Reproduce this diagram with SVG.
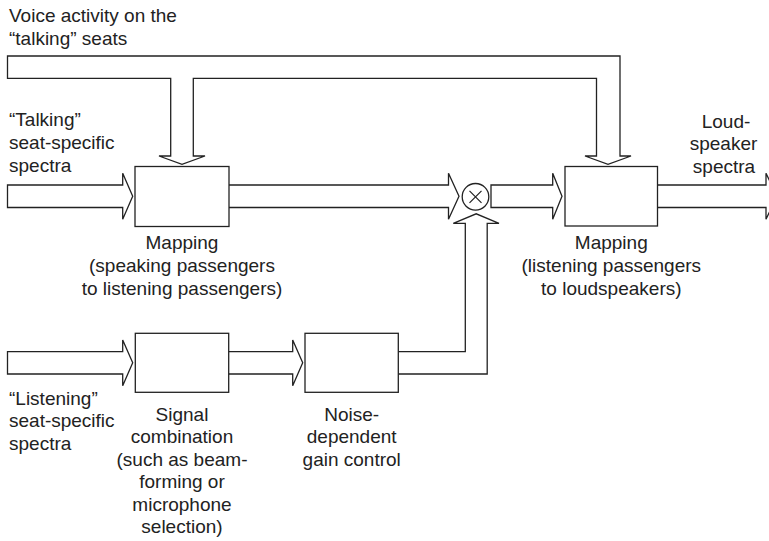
<svg xmlns="http://www.w3.org/2000/svg" width="769" height="541" viewBox="0 0 769 541">
  <style>
    .line { fill: #fff; stroke: #222; stroke-width: 1.3; stroke-linejoin: miter; }
    .box { fill: #fff; stroke: #222; stroke-width: 1.3; }
    .lbl { font-family: "Liberation Sans", Arial, Helvetica, sans-serif; font-size: 19px; fill: #222; }
    .mid { text-anchor: middle; }
  </style>
  <rect width="769" height="541" fill="#fff"/>

  <!-- wide block arrows between stages -->
  <g id="connectors">
    <!-- voice-activity bus feeding both mapping blocks from above -->
    <path class="line" d="M7.5,56 H620 V156 H631 L608,164.3 L585,156 H596.5 V78.3 H193.3 V156 H205 L182,164.3 L159,156 H170.7 V78.3 H7.5 Z"/>
    <!-- talking-seat spectra into first mapping -->
    <path class="line" d="M7.5,185 H122.7 V173.3 L132.7,196.25 L122.7,219.2 V207.5 H7.5 Z"/>
    <!-- first mapping to multiplier -->
    <path class="line" d="M229,185 H448.5 V173.3 L459,196.25 L448.5,219.2 V207.5 H229"/>
    <!-- multiplier to second mapping -->
    <path class="line" d="M491,185 H552.7 V173.3 L562,196.25 L552.7,219.2 V207.5 H491 Z"/>
    <!-- loudspeaker spectra out -->
    <path class="line" d="M657.5,185 H766 V173.3 L777,196.25 L766,219.2 V207.5 H657.5"/>
    <!-- listening-seat spectra into signal combination -->
    <path class="line" d="M7.5,351.7 H122.7 V340 L132.7,362.85 L122.7,385.7 V374 H7.5 Z"/>
    <!-- signal combination to gain control -->
    <path class="line" d="M228.7,351.7 H292.7 V340 L302.7,362.85 L292.7,385.7 V374 H228.7"/>
    <!-- gain control up into multiplier -->
    <path class="line" d="M398.3,351.7 H465.3 V223.3 H453.3 L476.2,213.8 L499,223.3 H487.2 V374 H398.3"/>
  </g>

  <g id="mapping-talk">
    <rect class="box" x="135" y="166.5" width="94" height="60"/>
    <text class="lbl mid" x="182" y="249">Mapping</text>
    <text class="lbl mid" x="182" y="272">(speaking passengers</text>
    <text class="lbl mid" x="182" y="295">to listening passengers)</text>
  </g>

  <g id="mapping-listen">
    <rect class="box" x="565" y="166.5" width="92.5" height="59.5"/>
    <text class="lbl mid" x="611.3" y="249">Mapping</text>
    <text class="lbl mid" x="611.3" y="272">(listening passengers</text>
    <text class="lbl mid" x="611.3" y="295">to loudspeakers)</text>
  </g>

  <g id="multiplier">
    <circle class="box" cx="475.5" cy="196.8" r="13.3"/>
    <path d="M469.5,190.8 L481.5,202.8 M481.5,190.8 L469.5,202.8" stroke="#222" stroke-width="1.2" fill="none"/>
  </g>

  <g id="signal-combination">
    <rect class="box" x="135.3" y="333.3" width="93.4" height="59"/>
    <text class="lbl mid" x="182" y="420.5">Signal</text>
    <text class="lbl mid" x="182" y="443">combination</text>
    <text class="lbl mid" x="182" y="465.5">(such as beam-</text>
    <text class="lbl mid" x="182" y="488">forming or</text>
    <text class="lbl mid" x="182" y="510.5">microphone</text>
    <text class="lbl mid" x="182" y="533">selection)</text>
  </g>

  <g id="gain-control">
    <rect class="box" x="305" y="333.3" width="93.3" height="59"/>
    <text class="lbl mid" x="351.7" y="420.5">Noise-</text>
    <text class="lbl mid" x="351.7" y="443">dependent</text>
    <text class="lbl mid" x="351.7" y="465.5">gain control</text>
  </g>

  <!-- signal names at the ports -->
  <g id="port-labels">
    <text class="lbl" x="9" y="21.7">Voice activity on the</text>
    <text class="lbl" x="9" y="45">“talking” seats</text>
    <text class="lbl" x="9" y="126">“Talking”</text>
    <text class="lbl" x="9" y="149">seat-specific</text>
    <text class="lbl" x="9" y="172">spectra</text>
    <text class="lbl" x="9" y="404.5">“Listening”</text>
    <text class="lbl" x="9" y="427">seat-specific</text>
    <text class="lbl" x="9" y="449.5">spectra</text>
    <text class="lbl mid" x="726" y="127.5">Loud-</text>
    <text class="lbl mid" x="723.5" y="150">speaker</text>
    <text class="lbl mid" x="724" y="172.5">spectra</text>
  </g>
</svg>
